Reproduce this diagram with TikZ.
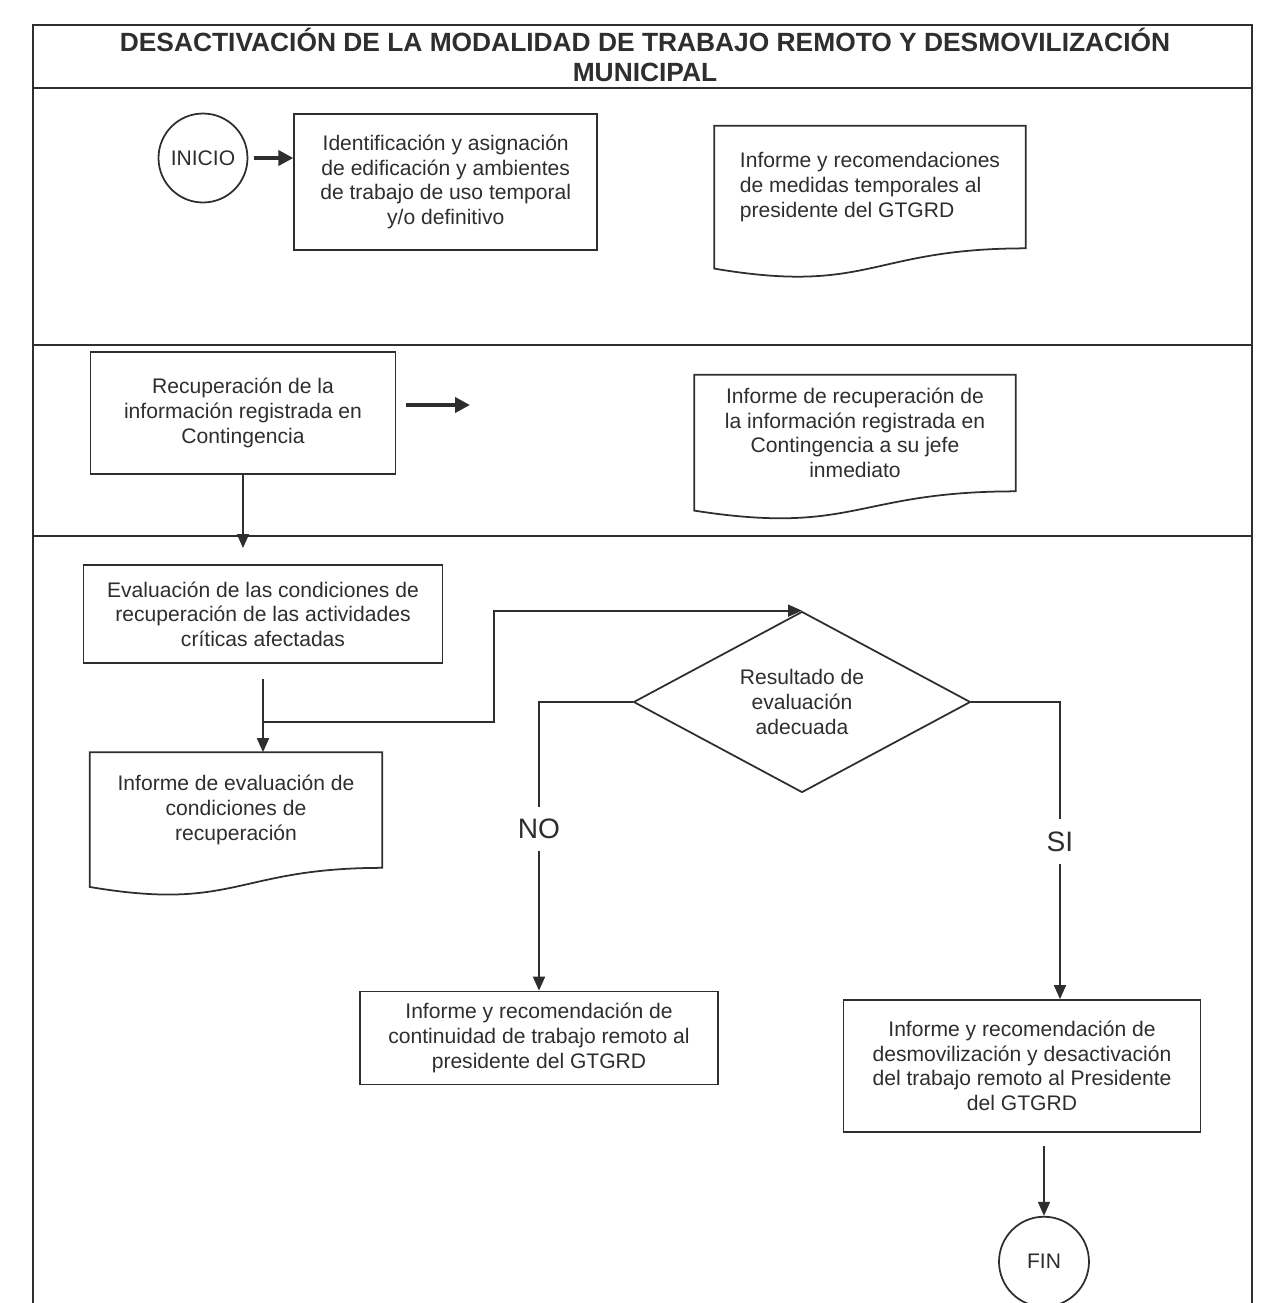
\documentclass[tikz,border=0pt]{standalone}
\usepackage{fontspec}
\setmainfont{Liberation Sans}
\usetikzlibrary{shapes.geometric, arrows.meta, positioning, calc}
\definecolor{ink}{gray}{0.18}
\newcommand*{\docOutline}[1]{%
    \draw[boxline] ($(#1.south west)!-0.165!(#1.north west)$) -- (#1.north west) -- (#1.north east) -- (#1.south east)
        .. controls (#1.south) and ($(#1.south)!-0.38!(#1.north)$) .. ($(#1.south west)!-0.165!(#1.north west)$) -- cycle;}
\tikzset{
    boxline/.style   = {line width=1pt},
    frame/.style     = {line width=0.8pt},
    to/.style        = {-{Triangle[length=2.8mm, width=2.4mm]}, line width=1pt},
    thickto/.style   = {-{Triangle[length=3mm, width=3mm]}, line width=2.2pt},
    process/.style   = {draw, boxline, rectangle, align=center},
    report/.style    = {rectangle, align=center},
    decision/.style  = {draw, boxline, diamond, aspect=1.9, align=center, minimum width=6.74cm, minimum height=3.62cm},
    startstop/.style = {draw, boxline, circle, minimum size=1.78cm},
    title/.style     = {font=\bfseries\fontsize{15}{17}\selectfont, align=center},
    tag/.style       = {fill=white, font=\fontsize{16}{19}\selectfont, inner xsep=1pt, inner ysep=2.5mm}
}

\begin{document}
\begin{tikzpicture}[x=0.02cm, y=-0.02cm, color=ink, every node/.style={font=\fontsize{12}{14}\selectfont}]
	\useasboundingbox (0,0) rectangle (1268,1303);
	% frame and lanes
	\draw[frame] (33,1303) -- (33,25) -- (1252,25) -- (1252,1303);
	\draw[frame] (33,88) -- (1252,88);
	\draw[frame] (33,345) -- (1252,345);
	\draw[frame] (33,536) -- (1252,536);
	\node (title) [title] at (645,55) {DESACTIVACIÓN DE LA MODALIDAD DE TRABAJO REMOTO Y DESMOVILIZACIÓN\\MUNICIPAL};

	% lane 1
	\node (inicio)   [startstop] at (203,158) {INICIO};
	\node (ident)    [process, right=0.9cm of inicio, yshift=-0.48cm, minimum width=6.06cm, minimum height=2.72cm] {Identificación y asignación\\de edificación y ambientes\\de trabajo de uso temporal\\y/o definitivo};
	\node (infTemp)  [report, align=left, minimum width=6.22cm, minimum height=2.44cm] at (870,187) {Informe y recomendaciones\\de medidas temporales al\\presidente del GTGRD};
	\docOutline{infTemp}

	% lane 2
	\node (recup)    [process, minimum width=6.1cm, minimum height=2.44cm] at (243,413) {Recuperación de la\\información registrada en\\Contingencia};
	\node (infRecup) [report, minimum width=6.42cm, minimum height=2.32cm] at (855,433) {Informe de recuperación de\\la información registrada en\\Contingencia a su jefe\\inmediato};
	\docOutline{infRecup}
	\coordinate (recupOut)  at (470,405);
	\coordinate (recupDown) at (243,548);

	% lane 3
	\node (eval)     [process, minimum width=7.18cm, minimum height=1.96cm] at (263,614) {Evaluación de las condiciones de\\recuperación de las actividades\\críticas afectadas};
	\node (infEval)  [report, minimum width=5.84cm, minimum height=2.3cm] at (236,810) {Informe de evaluación de\\condiciones de\\recuperación};
	\docOutline{infEval}
	\node (dec)      [decision] at (802,702) {Resultado de\\evaluación\\adecuada};
	\node (contin)   [process, minimum width=7.16cm, minimum height=1.86cm] at (539,1038) {Informe y recomendación de\\continuidad de trabajo remoto al\\presidente del GTGRD};
	\node (desmov)   [process, minimum width=7.14cm, minimum height=2.64cm] at (1022,1066) {Informe y recomendación de\\desmovilización y desactivación\\del trabajo remoto al Presidente\\del GTGRD};
	\node (fin)      [startstop, below=1.66cm of desmov, xshift=0.44cm, minimum size=1.8cm] {FIN};
	\coordinate (split) at (263,722);

	\draw [thickto, shorten <=3pt] (inicio) -- (inicio -| ident.west);
	\draw [thickto, shorten <=0.2cm] (recup.east |- recupOut) -- (recupOut);
	\draw [to] (recup) -- (recupDown);
	\draw [to, shorten <=0.3cm] (eval.south) -- (eval.south |- infEval.north);
	\draw [to] (split) -- ++(231,0) |- (dec.north);
	\draw [to] (dec.west) -| node[tag, pos=0.72]{NO} (contin.north);
	\draw [to] (dec.east) -| node[tag, pos=0.735]{SI} ([xshift=0.76cm]desmov.north);
	\draw [to, shorten <=0.26cm] (fin.north |- desmov.south) -- (fin);
\end{tikzpicture}
\end{document}
